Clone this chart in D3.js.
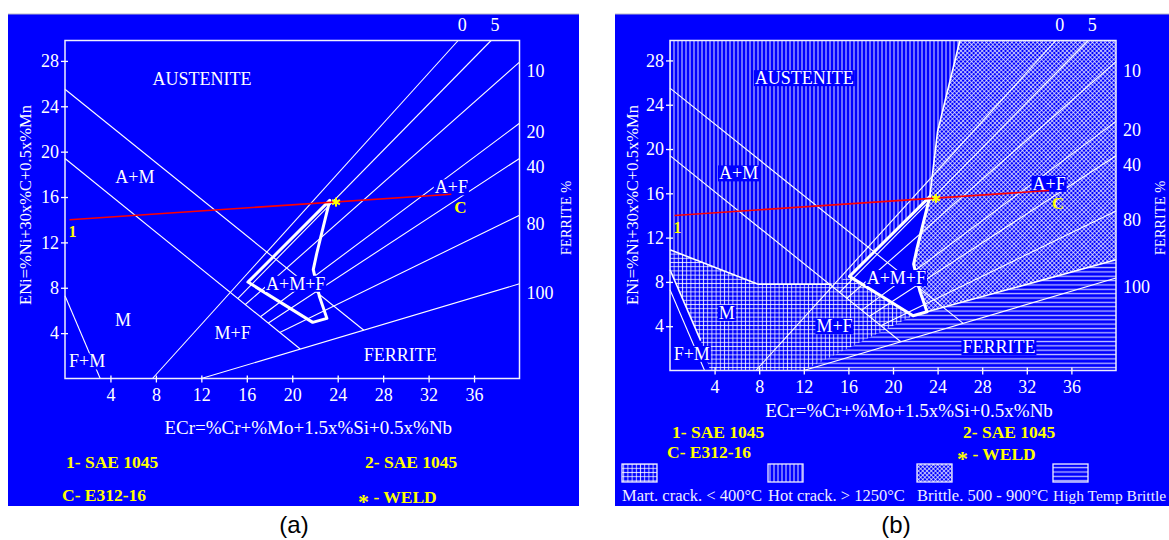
<!DOCTYPE html>
<html>
<head>
<meta charset="utf-8">
<script src="https://cdn.jsdelivr.net/npm/d3@7"></script>
<style>
  body { margin: 0; background: #ffffff; }
  svg { display: block; }
</style>
</head>
<body>
<svg id="fig" width="1169" height="540"></svg>
<script>
// ---- Axis ticks (ECr on x, ENi on y) ----
const ecrTicks = [4, 8, 12, 16, 20, 24, 28, 32, 36];
const eniTicks = [4, 8, 12, 16, 20, 24, 28];
const ecrMax = 40;
const eniMax = 29.8;

// ---- Ferrite iso-lines (Schaeffler): label, end on the frame, inner end ----
const ferritePct   = ["0", "5", "10", "20", "40", "80", "100"];
const ferriteOuter = [[34.6, 29.8], [37.5, 29.8], [40, 27.9], [40, 22.5], [40, 19.4], [40, 14.4], [40, 8.35]];
const ferriteInner = [[7.7, 0], [15.2, 7.05], [15.85, 6.5], [17.2, 5.45], [17.9, 4.9], [18.9, 4.05], [12, 0]];

// ---- Phase boundaries ----
const upperAM = [[0, 25.5], [26.3, 4.25]];
const lowerAM = [[0, 19.4], [20.7, 2.6]];
const fmLine  = [[0, 7.3], [3.1, 0]];

// ---- Dilution zone of the weld ----
const dilutionZone = [[16.1, 8.5], [23.3, 15.7], [22.15, 11.0], [21.85, 9.6], [22.4, 7.2], [23.05, 5.3], [21.8, 4.95]];

// ---- Alloys ----
const baseMetal = [0.4, 14.0];     // 1- / 2- SAE 1045
const fillerMetal = [34.0, 16.25]; // C- E312-16
const weldMetal = [23.85, 15.55];  // * - WELD

// ---- Region labels ----
const regionNames = ["AUSTENITE", "A+M", "M", "F+M", "M+F", "A+M+F", "FERRITE", "A+F"];
const regionAt = [[12.05, 26.4], [6.15, 17.8], [5.1, 5.2], [1.95, 1.5], [14.75, 4.0], [20.3, 8.35], [29.5, 2.1], [34.0, 16.85]];

// ---- Weldability zones (second diagram) ----
const hotCrackZone = [[0, 29.8], [26.0, 29.8], [24.0, 21.6], [23.3, 15.7], [16.1, 8.5], [14.5, 7.8], [7.9, 7.8], [0, 10.9]];
const martCrackZone = [[0, 10.9], [7.9, 7.8], [14.5, 7.8], [16.1, 8.5], [21.8, 4.95], [12, 0], [3.6, 0], [2.75, 2.7], [0, 9.1]];
const brittleZone = [[26.0, 29.8], [40, 29.8], [40, 10.0], [23.05, 5.3], [22.4, 7.2], [21.85, 9.6], [22.15, 11.0], [23.3, 15.7], [24.0, 21.6]];
const highTempZone = [[12, 0], [21.8, 4.95], [23.05, 5.3], [40, 10.0], [40, 0]];
const brittleEdge = [[26.0, 29.8], [24.0, 21.6], [23.3, 15.7]];
const brittleFloor = [[23.05, 5.3], [40, 10.0]];
const martRoof = [[0, 10.9], [7.9, 7.8], [14.5, 7.8]];
const fmOuter = [[0, 9.1], [2.75, 2.7]];

const zoneNames = ["Mart. crack. < 400\u00B0C", "Hot crack. > 1250\u00B0C", "Brittle. 500 - 900\u00B0C", "High Temp Brittle"];

const BLUE = "#0000ff";
const WHITE = "#ffffff";
const YELLOW = "#ffff00";
const SERIF = "'Liberation Serif', 'Times New Roman', serif";

const svg = d3.select("#fig");
const defs = svg.append("defs");

// hatch patterns
function pattern(id, w, h, rot) {
  const p = defs.append("pattern").attr("id", id)
    .attr("patternUnits", "userSpaceOnUse").attr("width", w).attr("height", h);
  if (rot) p.attr("patternTransform", `rotate(${rot})`);
  return p;
}
const pHot = pattern("hotCrack", 4, 4);
pHot.append("line").attr("x1", 2).attr("x2", 2).attr("y1", 0).attr("y2", 4)
  .attr("stroke", WHITE).attr("stroke-width", 1).attr("stroke-opacity", 0.85);
const pMart = pattern("martCrack", 4.2, 4.2);
pMart.append("line").attr("x1", 2.1).attr("x2", 2.1).attr("y1", 0).attr("y2", 4.2)
  .attr("stroke", WHITE).attr("stroke-width", 1).attr("stroke-opacity", 0.8);
pMart.append("line").attr("y1", 2.1).attr("y2", 2.1).attr("x1", 0).attr("x2", 4.2)
  .attr("stroke", WHITE).attr("stroke-width", 1).attr("stroke-opacity", 0.8);
const pBrit = pattern("brittle", 3, 3, 45);
pBrit.append("line").attr("x1", 1.5).attr("x2", 1.5).attr("y1", 0).attr("y2", 3)
  .attr("stroke", WHITE).attr("stroke-width", 0.9).attr("stroke-opacity", 0.75);
pBrit.append("line").attr("y1", 1.5).attr("y2", 1.5).attr("x1", 0).attr("x2", 3)
  .attr("stroke", WHITE).attr("stroke-width", 0.9).attr("stroke-opacity", 0.75);
const pHigh = pattern("highTemp", 4, 4.35);
pHigh.append("line").attr("y1", 2.2).attr("y2", 2.2).attr("x1", 0).attr("x2", 4)
  .attr("stroke", WHITE).attr("stroke-width", 1.3).attr("stroke-opacity", 0.75);

const panels = [
  { bg: [8, 14, 579, 506], left: 65, right: 519.5, bottom: 378.5, top: 40.5, zones: false,
    caption: "(a)", capX: 294,
    xTitleY: 427, yTitleX: 25, ferTitleX: 566,
    legend: [["1- SAE 1045", 66, 462], ["C- E312-16", 62, 495], ["2- SAE 1045", 365, 462], ["* - WELD", 358, 495]] },
  { bg: [615, 14, 1169, 506], left: 670, right: 1116, bottom: 370.5, top: 40.5, zones: true,
    caption: "(b)", capX: 896,
    xTitleY: 410, yTitleX: 632, ferTitleX: 1160,
    legend: [["1- SAE 1045", 672, 432], ["C- E312-16", 667, 452], ["2- SAE 1045", 963, 432], ["* - WELD", 957, 452]] }
];

panels.forEach(drawPanel);

function drawPanel(cfg) {
  const g = svg.append("g");
  const x = d3.scaleLinear().domain([0, ecrMax]).range([cfg.left, cfg.right]);
  const y = d3.scaleLinear().domain([0, eniMax]).range([cfg.bottom, cfg.top]);
  const line = d3.line().x(d => x(d[0])).y(d => y(d[1]));
  const [bx0, by0, bx1, by1] = cfg.bg;

  g.append("rect").attr("x", bx0).attr("y", by0).attr("width", bx1 - bx0).attr("height", by1 - by0)
    .attr("fill", BLUE);
  g.append("line").attr("x1", bx0).attr("x2", bx1).attr("y1", by0).attr("y2", by0)
    .attr("stroke", "#b8b8c8").attr("stroke-width", 1.2);

  if (cfg.zones) {
    const zones = [[hotCrackZone, "hotCrack"], [martCrackZone, "martCrack"], [brittleZone, "brittle"], [highTempZone, "highTemp"]];
    zones.forEach(([pts, id]) => {
      g.append("path").attr("d", line(pts) + "Z").attr("fill", `url(#${id})`);
    });
    g.append("path").attr("d", line(dilutionZone) + "Z").attr("fill", BLUE);
  }

  // phase boundaries and ferrite iso-lines
  const thin = g.append("g").attr("fill", "none").attr("stroke", WHITE).attr("stroke-width", 1.1);
  [upperAM, lowerAM, fmLine].forEach(seg => thin.append("path").attr("d", line(seg)));
  ferritePct.forEach((p, i) => thin.append("path").attr("d", line([ferriteOuter[i], ferriteInner[i]])));

  if (cfg.zones) {
    [brittleEdge, brittleFloor, martRoof, fmOuter].forEach(seg =>
      thin.append("path").attr("d", line(seg)).attr("stroke-width", 1.6));
  }

  // weld dilution zone outline
  g.append("path").attr("d", line(dilutionZone) + "Z")
    .attr("fill", "none").attr("stroke", WHITE).attr("stroke-width", 3).attr("stroke-linejoin", "round");

  // frame
  g.append("rect").attr("x", x(0)).attr("y", y(eniMax)).attr("width", x(ecrMax) - x(0)).attr("height", y(0) - y(eniMax))
    .attr("fill", "none").attr("stroke", "#eeeeff").attr("stroke-width", 1.5);

  // axes
  const ax = g.append("g").attr("transform", `translate(0,${y(0)})`)
    .call(d3.axisBottom(x).tickValues(ecrTicks).tickSize(4).tickPadding(6).tickFormat(d3.format("d")));
  const ay = g.append("g").attr("transform", `translate(${x(0)},0)`)
    .call(d3.axisLeft(y).tickValues(eniTicks).tickSize(4).tickPadding(2).tickFormat(d3.format("d")));
  [ax, ay].forEach(a => {
    a.select(".domain").remove();
    a.selectAll("line").attr("stroke", WHITE).attr("stroke-width", 1.3);
    a.selectAll("text").attr("fill", WHITE).style("font-family", SERIF).style("font-size", "18px");
  });
  ax.selectAll("line").attr("y1", -3);
  ay.selectAll("line").attr("x1", 3);

  // ferrite percentage scale
  ferritePct.forEach((p, i) => {
    const [fx, fy] = ferriteOuter[i];
    const t = g.append("text").text(p).attr("fill", WHITE)
      .style("font-family", SERIF).style("font-size", "18px");
    if (fy >= eniMax) {
      t.attr("x", x(fx) + 4).attr("y", 25).attr("text-anchor", "middle").attr("dominant-baseline", "central");
    } else {
      t.attr("x", x(ecrMax) + 7).attr("y", y(fy) + 9).attr("dominant-baseline", "central");
    }
  });

  // axis titles
  g.append("text").text("ECr=%Cr+%Mo+1.5x%Si+0.5x%Nb")
    .attr("x", (x(0) + x(ecrMax)) / 2 + 16).attr("y", cfg.xTitleY).attr("text-anchor", "middle")
    .attr("dominant-baseline", "central").attr("fill", WHITE)
    .style("font-family", SERIF).style("font-size", "19px");
  g.append("text").text("ENi=%Ni+30x%C+0.5x%Mn")
    .attr("transform", `translate(${cfg.yTitleX},205) rotate(-90)`).attr("text-anchor", "middle")
    .attr("dominant-baseline", "central").attr("fill", WHITE)
    .style("font-family", SERIF).style("font-size", "16.5px");
  g.append("text").text("FERRITE %")
    .attr("transform", `translate(${cfg.ferTitleX},218) rotate(-90)`).attr("text-anchor", "middle")
    .attr("dominant-baseline", "central").attr("fill", WHITE)
    .style("font-family", SERIF).style("font-size", "14.5px");

  // region labels on a blue box
  regionNames.forEach((name, i) => {
    const lg = g.append("g");
    const t = lg.append("text").text(name)
      .attr("x", x(regionAt[i][0])).attr("y", y(regionAt[i][1]))
      .attr("text-anchor", "middle").attr("dominant-baseline", "central").attr("fill", WHITE)
      .style("font-family", SERIF).style("font-size", "18px");
    const b = t.node().getBBox();
    lg.insert("rect", "text").attr("x", b.x - 1).attr("y", b.y + 2).attr("width", b.width + 2).attr("height", b.height - 4)
      .attr("fill", BLUE);
  });

  // dilution line from base metal to filler metal
  g.append("path").attr("d", line([baseMetal, fillerMetal]))
    .attr("stroke", "#ff0000").attr("stroke-width", 1.6).attr("fill", "none");

  // weld point (asterisk)
  const wx = x(weldMetal[0]), wy = y(weldMetal[1]);
  [0, 60, 120].forEach(a => {
    const r = a * Math.PI / 180;
    g.append("line").attr("x1", wx - 4.5 * Math.sin(r)).attr("y1", wy - 4.5 * Math.cos(r))
      .attr("x2", wx + 4.5 * Math.sin(r)).attr("y2", wy + 4.5 * Math.cos(r))
      .attr("stroke", YELLOW).attr("stroke-width", 2);
  });

  // point tags
  g.append("text").text("C").attr("x", x(fillerMetal[0]) + 9).attr("y", y(fillerMetal[1]) + 13)
    .attr("text-anchor", "middle").attr("dominant-baseline", "central").attr("fill", YELLOW)
    .style("font-family", SERIF).style("font-size", "17px").style("font-weight", "bold");
  g.append("text").text("1").attr("x", x(baseMetal[0]) + 3).attr("y", y(baseMetal[1]) + 12)
    .attr("text-anchor", "middle").attr("dominant-baseline", "central").attr("fill", YELLOW)
    .style("font-family", SERIF).style("font-size", "16px").style("font-weight", "bold");

  // legend of alloys
  cfg.legend.forEach(([txt, lx, ly]) => {
    const t = g.append("text").attr("x", lx).attr("y", ly).attr("dominant-baseline", "central")
      .attr("fill", YELLOW).style("font-family", SERIF).style("font-size", "17.5px").style("font-weight", "bold");
    if (txt.startsWith("*")) {
      t.append("tspan").text("*").style("font-size", "22px").attr("dy", "0.25em");
      t.append("tspan").text(txt.slice(1)).attr("dy", "-0.2em");
    } else {
      t.text(txt);
    }
  });

  // legend of weldability zones
  if (cfg.zones) {
    const swX = [622, 768, 917, 1053];
    ["martCrack", "hotCrack", "brittle", "highTemp"].forEach((id, i) => {
      g.append("rect").attr("x", swX[i]).attr("y", 464).attr("width", 35).attr("height", 18)
        .attr("fill", `url(#${id})`).attr("stroke", "#eeeeff").attr("stroke-width", 1.3);
      g.append("text").text(zoneNames[i]).attr("x", swX[i]).attr("y", 495).attr("dominant-baseline", "central")
        .attr("fill", "#eeeeff").style("font-family", SERIF)
        .style("font-size", i === 3 ? "15.5px" : "16.5px");
    });
  }

  // caption
  svg.append("text").text(cfg.caption).attr("x", cfg.capX).attr("y", 524)
    .attr("text-anchor", "middle").attr("dominant-baseline", "central").attr("fill", "#000")
    .style("font-family", "'Liberation Sans', Arial, sans-serif").style("font-size", "24px");
}
</script>
</body>
</html>
